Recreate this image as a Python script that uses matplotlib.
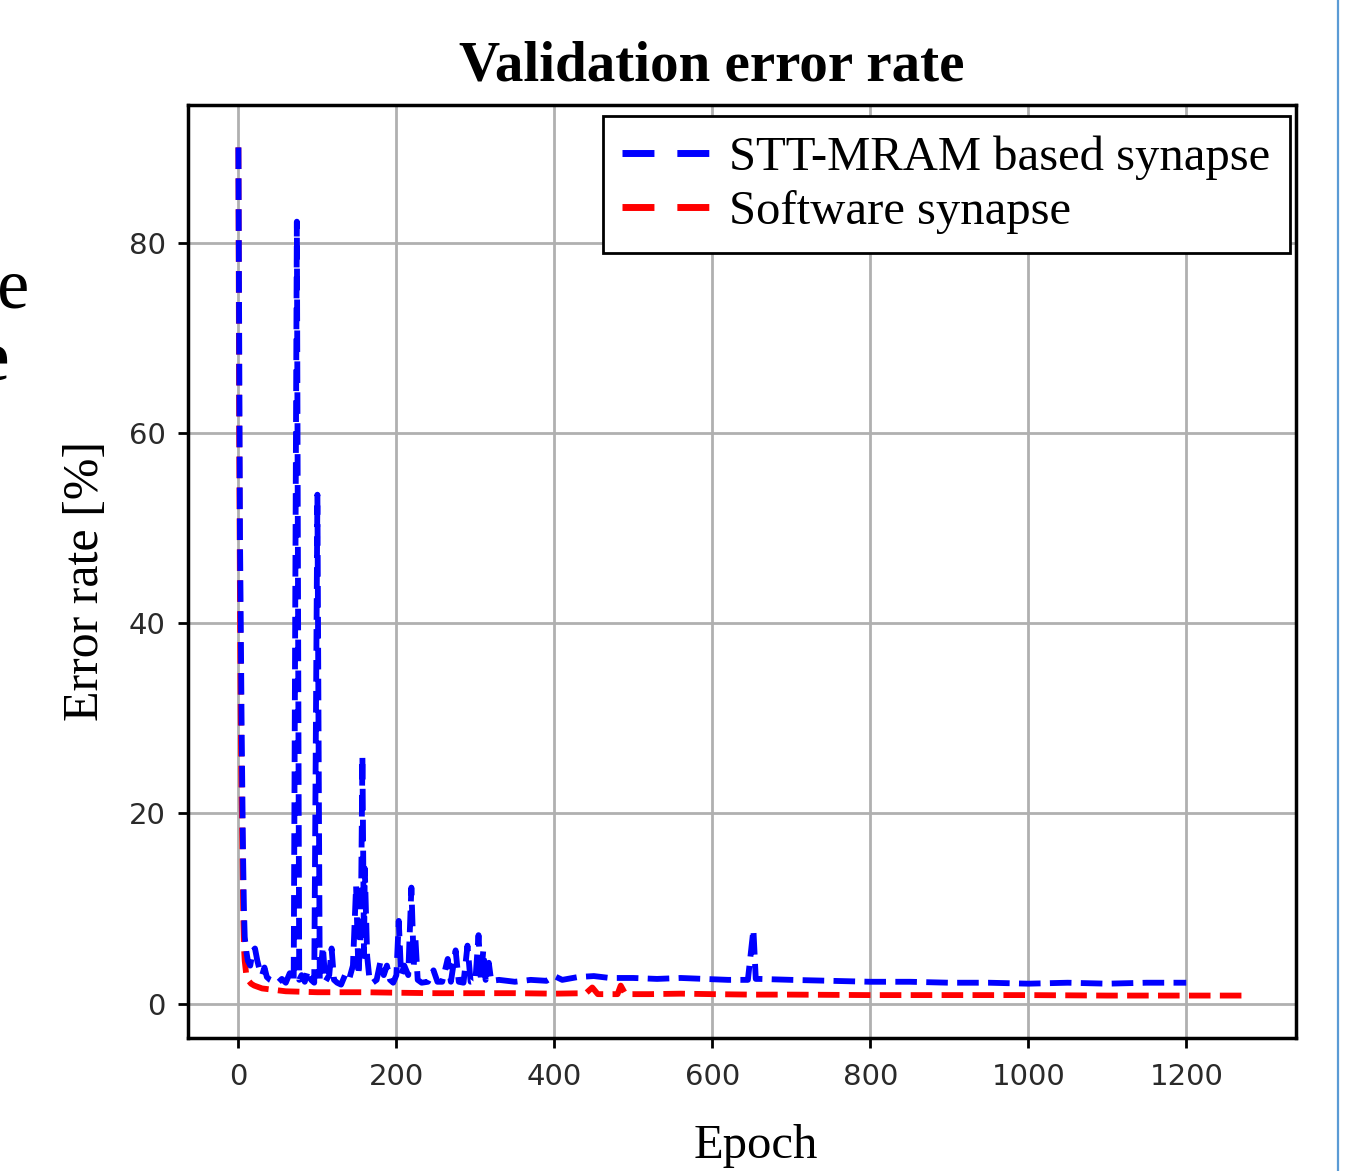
import matplotlib
matplotlib.use("Agg")
import matplotlib.pyplot as plt
from matplotlib.lines import Line2D

# STT-MRAM based synapse (blue), sampled at the epochs where the curve changes
mram_epoch = [0, 1, 2, 3, 4, 5, 6, 7, 8, 10, 12, 15, 18, 21, 24, 27, 30, 33, 36,
              40, 45, 50, 55, 60, 65, 70, 74, 77, 80, 84, 88, 92, 96, 100, 103,
              107, 110, 115, 118, 121, 125, 130, 135, 140, 145, 149, 152, 155,
              157, 159, 160, 163, 166, 170, 175, 180, 184, 188, 192, 196, 200,
              203, 206, 210, 215, 219, 222, 224, 227, 232, 240, 247, 252, 258,
              265, 269, 275, 279, 285, 290, 294, 300, 304, 307, 310, 313, 317,
              320, 330, 350, 370, 390, 400, 410, 430, 450, 470, 500, 530, 560,
              590, 620, 645, 652, 655, 660, 700, 750, 800, 850, 900, 950, 1000,
              1050, 1100, 1150, 1200]
mram_err = [90, 70, 49, 40, 30, 22, 15, 10, 7, 5.5, 4.5, 4, 5.5, 5.8, 4.5, 3.5, 3,
            3.8, 2.8, 2.5, 2.3, 2.2, 2.6, 2.2, 3.2, 2.4, 82.2, 2.5, 3, 2.3, 3.5,
            2.5, 2.2, 53.5, 2.5, 6, 2.3, 3, 5.8, 2.5, 2.2, 2.0, 3, 2.5, 4, 12.4,
            3, 8, 26, 5, 14.2, 5, 2.5, 2.2, 2.5, 4.5, 3, 4, 2.5, 2.2, 3, 8.7, 3,
            4, 3, 12.2, 4, 7, 2.5, 2.2, 2.3, 3.5, 2.3, 2.3, 4.7, 2.3, 5.6, 2.3,
            2.2, 6.1, 2.3, 2.4, 7.2, 2.5, 5.6, 2.5, 4.3, 2.4, 2.5, 2.3, 2.5, 2.4,
            2.9, 2.5, 2.8, 2.9, 2.7, 2.7, 2.6, 2.7, 2.6, 2.5, 2.5, 7.8, 2.6, 2.6,
            2.5, 2.4, 2.3, 2.3, 2.2, 2.2, 2.1, 2.2, 2.1, 2.2, 2.2]

# Software synapse (red)
soft_epoch = [0, 1, 2, 3, 4, 5, 6, 7, 8, 10, 13, 16, 20, 30, 40, 60, 80, 100,
              130, 160, 200, 250, 300, 350, 400, 440, 448, 455, 480, 484, 490,
              520, 560, 600, 650, 700, 800, 900, 1000, 1100, 1200, 1275]
soft_err = [90, 60, 42, 30, 22, 17, 10, 6, 4.5, 3, 2.4, 2.1, 1.9, 1.6, 1.5, 1.3,
            1.25, 1.2, 1.2, 1.2, 1.15, 1.1, 1.1, 1.1, 1.05, 1.1, 1.7, 1.0, 1.0,
            1.9, 1.0, 1.0, 1.05, 1.0, 0.95, 0.95, 0.9, 0.9, 0.9, 0.85, 0.85, 0.85]

xticks = [0, 200, 400, 600, 800, 1000, 1200]
yticks = [0, 20, 40, 60, 80]

serif = "Liberation Serif"

fig = plt.figure(figsize=(13.49, 11.71), dpi=100)
ax = fig.add_axes([0.1394, 0.1136, 0.8212, 0.7967])

dash = (0, (3.7, 1.6))
ax.plot(mram_epoch, mram_err, color="blue", lw=4.2, linestyle=dash, zorder=3)
ax.plot(soft_epoch, soft_err, color="red", lw=4.2, linestyle=dash, zorder=2)

ax.set_xticks(xticks)
ax.set_yticks(yticks)
ax.grid(True, color="#b0b0b0", lw=2)
ax.set_axisbelow(True)
for s in ax.spines.values():
    s.set_linewidth(2.5)
ax.tick_params(labelsize=21, length=7, width=2, labelcolor="#2a2a2a")
ax.tick_params(axis="x", pad=11)
ax.tick_params(axis="y", pad=9)

ax.set_title("Validation error rate", fontfamily=serif, fontweight="bold",
             fontsize=41, pad=18, x=0.473)
ax.set_ylabel("Error rate [%]", fontfamily=serif, fontsize=36)
ax.yaxis.set_label_coords(-0.071, 0.49)
ax.set_xlabel("Epoch", fontfamily=serif, fontsize=35)
ax.xaxis.set_label_coords(0.5127, -0.092)

# legend handles: two long dashes, as in the legend box
handles = [Line2D([], [], color="blue", lw=5, dashes=(4.6, 3.3)),
           Line2D([], [], color="red", lw=5, dashes=(4.6, 3.3))]
labels = ["STT-MRAM based synapse", "Software synapse"]
leg = ax.legend(handles, labels, loc="upper right",
                bbox_to_anchor=(0.9946, 0.988), borderaxespad=0,
                prop={"family": serif, "size": 35}, fancybox=False,
                edgecolor="black", framealpha=1, handlelength=1.8,
                borderpad=0.4, labelspacing=0.2, handletextpad=0.4)
leg.get_frame().set_linewidth(2)

# pieces of the slide around the chart
fig.text(30 / 1349, 1 - 308 / 1171, "te", fontfamily=serif, fontsize=52,
         ha="right", va="baseline")
fig.text(9 / 1349, 1 - 380 / 1171, "re", fontfamily=serif, fontsize=52,
         fontweight="bold", ha="right", va="baseline")
fig.add_artist(Line2D([1338 / 1349, 1338 / 1349], [0, 1], color="#5b9bd5",
                      lw=1.6, transform=fig.transFigure))

fig.savefig("out.png", dpi=100)
